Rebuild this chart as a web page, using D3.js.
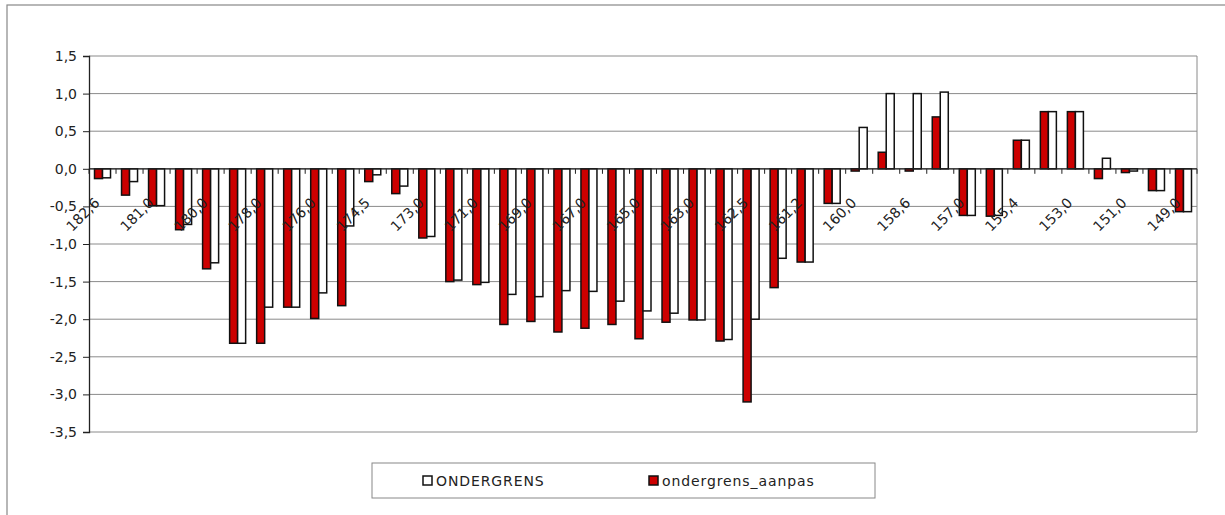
<!DOCTYPE html>
<html>
<head>
<meta charset="utf-8">
<script src="https://d3js.org/d3.v7.min.js"></script>
<style>
  body { margin: 0; background: #fff; }
  svg { font-family: "DejaVu Sans", sans-serif; }
</style>
</head>
<body>
<svg id="chart" width="1225" height="515"></svg>
<script>
// every second category carries a label
const tickLabels = ["182,6", "181,0", "180,0", "178,0", "176,0", "174,5", "173,0", "171,0",
    "169,0", "167,0", "165,0", "163,0", "162,5", "161,2", "160,0", "158,6", "157,0",
    "155,4", "153,0", "151,0", "149,0"];

const aanpas = [-0.13, -0.35, -0.49, -0.81, -1.33, -2.32, -2.32, -1.84, -1.99, -1.82,
    -0.17, -0.33, -0.92, -1.50, -1.54, -2.07, -2.03, -2.17, -2.12, -2.07,
    -2.26, -2.04, -2.01, -2.29, -3.10, -1.58, -1.24, -0.46, -0.03, 0.22,
    -0.03, 0.69, -0.62, -0.63, 0.38, 0.76, 0.76, -0.13, -0.05, -0.29, -0.57];

const ondergrens = [-0.12, -0.17, -0.49, -0.74, -1.25, -2.32, -1.84, -1.84, -1.65, -0.76,
    -0.08, -0.23, -0.90, -1.48, -1.51, -1.67, -1.70, -1.62, -1.63, -1.76,
    -1.89, -1.92, -2.01, -2.27, -2.00, -1.19, -1.24, -0.46, 0.55, 1.00,
    1.00, 1.02, -0.62, -0.62, 0.38, 0.76, 0.76, 0.14, -0.03, -0.29, -0.57];

const yTicks = [1.5, 1.0, 0.5, 0.0, -0.5, -1.0, -1.5, -2.0, -2.5, -3.0, -3.5];

const svg = d3.select("#chart");
const plotLeft = 89, plotRight = 1197, plotTop = 56, plotBottom = 432;
const fmt = v => d3.format(".1f")(v).replace(".", ",").replace("−", "-");

// outer chart frame
svg.append("rect")
    .attr("x", 7).attr("y", 5)
    .attr("width", 1240).attr("height", 530)
    .attr("fill", "none").attr("stroke", "#888").attr("stroke-width", 1.2);

const idx = d3.range(aanpas.length);
const x = d3.scaleBand().domain(idx).range([plotLeft, plotRight]).paddingInner(0).paddingOuter(0);
const xSub = d3.scaleBand().domain(["aanpas", "ondergrens"])
    .range([0, x.bandwidth()]).paddingInner(0).paddingOuter(0.6875);
const y = d3.scaleLinear().domain([-3.5, 1.5]).range([plotBottom, plotTop]);

// gridlines
svg.append("g").selectAll("line").data(yTicks).join("line")
    .attr("x1", plotLeft).attr("x2", plotRight)
    .attr("y1", d => y(d)).attr("y2", d => y(d))
    .attr("stroke", "#8a8a8a").attr("stroke-width", 1);

// plot area right border
svg.append("line")
    .attr("x1", plotRight).attr("x2", plotRight).attr("y1", plotTop).attr("y2", plotBottom)
    .attr("stroke", "#8a8a8a");

// y axis
const yAxis = d3.axisLeft(y).tickValues(yTicks).tickSize(6).tickPadding(6).tickFormat(fmt);
const gy = svg.append("g").attr("transform", `translate(${plotLeft},0)`).call(yAxis);
gy.select(".domain").attr("stroke", "#222").attr("stroke-width", 1.3);
gy.selectAll(".tick line").attr("stroke", "#222");
gy.selectAll("text").attr("font-size", 14).attr("fill", "#222").attr("font-family", "DejaVu Sans");

// bars
const series = [
    {key: "aanpas", values: aanpas, fill: "#cc0000"},
    {key: "ondergrens", values: ondergrens, fill: "#fff"}
];
series.forEach(s => {
    svg.append("g").selectAll("rect").data(idx).join("rect")
        .attr("x", i => x(i) + xSub(s.key))
        .attr("width", xSub.bandwidth())
        .attr("y", i => y(Math.max(0, s.values[i])))
        .attr("height", i => Math.abs(y(s.values[i]) - y(0)))
        .attr("fill", s.fill)
        .attr("stroke", "#111").attr("stroke-width", 1.5);
});

// category axis at zero with ticks on band boundaries
svg.append("line")
    .attr("x1", plotLeft).attr("x2", plotRight).attr("y1", y(0)).attr("y2", y(0))
    .attr("stroke", "#222").attr("stroke-width", 1.3);
svg.append("g").selectAll("line").data(d3.range(aanpas.length + 1)).join("line")
    .attr("x1", i => plotLeft + i * x.step()).attr("x2", i => plotLeft + i * x.step())
    .attr("y1", y(0)).attr("y2", y(0) + 5)
    .attr("stroke", "#222");

// rotated category labels
svg.append("g").selectAll("text").data(tickLabels).join("text")
    .attr("transform", (d, k) => `translate(${x(k * 2) + x.bandwidth() / 2 - 2},${y(0) + 35}) rotate(-45)`)
    .attr("text-anchor", "end")
    .attr("font-size", 14).attr("fill", "#222")
    .text(d => d);

// legend
const legend = svg.append("g");
legend.append("rect")
    .attr("x", 372).attr("y", 463).attr("width", 503).attr("height", 35)
    .attr("fill", "#fff").attr("stroke", "#888");
const items = [
    {name: "ONDERGRENS", fill: "#fff", x: 423},
    {name: "ondergrens_aanpas", fill: "#cc0000", x: 649}
];
items.forEach(it => {
    legend.append("rect")
        .attr("x", it.x).attr("y", 476).attr("width", 9).attr("height", 9)
        .attr("fill", it.fill).attr("stroke", "#111").attr("stroke-width", 1.5);
    legend.append("text")
        .attr("x", it.x + 13).attr("y", 486)
        .attr("font-size", 14).attr("fill", "#222")
        .attr("letter-spacing", 0.9)
        .text(it.name);
});
</script>
</body>
</html>
